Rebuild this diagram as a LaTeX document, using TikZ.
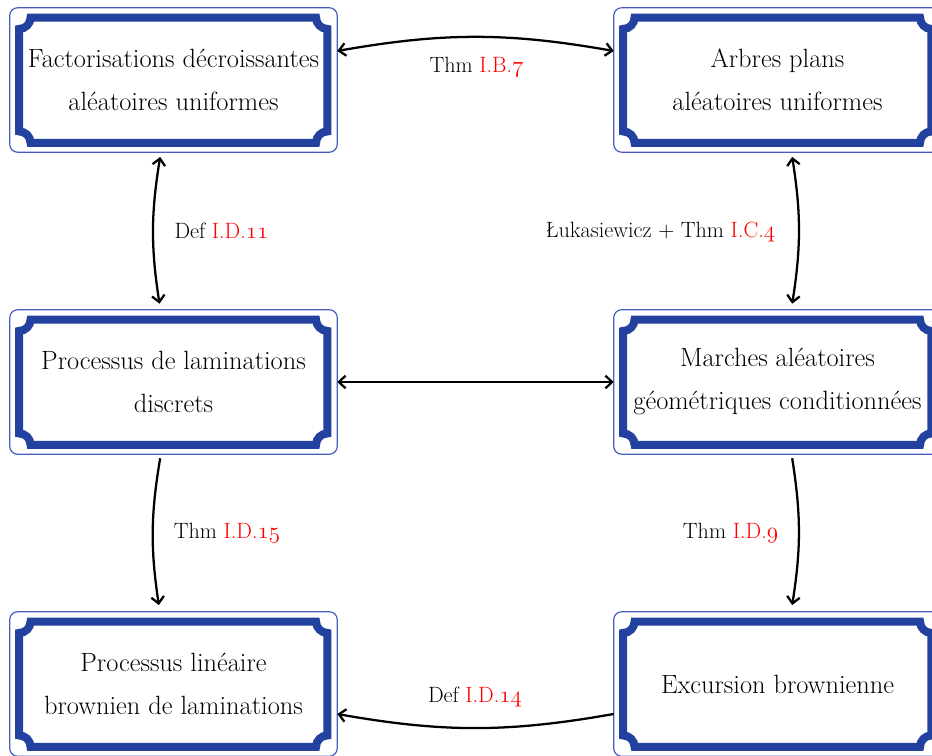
\documentclass[tikz,border=0pt]{standalone}
\usetikzlibrary{arrows.meta,calc}
\definecolor{framecol}{RGB}{35,65,158}
\definecolor{thincol}{RGB}{70,95,190}
\def\plqr{8.5pt}
\newcommand\plaque[1]{%
  \draw[thincol, line width=0.9pt, rounded corners=6pt] (#1.south west) rectangle (#1.north east);
  \path (#1.south west) ++(7.1pt,7.1pt) coordinate (#1-a);
  \path (#1.north east) ++(-7.4pt,-7.4pt) coordinate (#1-b);
  \draw[framecol, line width=6pt] let \p1=(#1-a), \p2=(#1-b) in
    (\x1+\plqr,\y1) -- (\x2-\plqr,\y1) arc[start angle=180,end angle=90,radius=\plqr]
    -- (\x2,\y2-\plqr) arc[start angle=270,end angle=180,radius=\plqr]
    -- (\x1+\plqr,\y2) arc[start angle=0,end angle=-90,radius=\plqr]
    -- (\x1,\y1+\plqr) arc[start angle=90,end angle=0,radius=\plqr] -- cycle;
}
\tikzset{
  x=0.75pt, y=0.75pt,
  box/.style={rectangle, minimum width=245.25pt, minimum height=108pt, inner sep=0pt,
    align=center, font=\fontsize{19.8}{32.25}\selectfont},
  lbl/.style={anchor=base, inner sep=0pt, font=\fontsize{16.6}{20}\selectfont},
  conn/.style={line width=1.7pt, {Straight Barb[length=5pt,width=9.5pt]}-{Straight Barb[length=5pt,width=9.5pt]}},
  conn1/.style={line width=1.7pt, -{Straight Barb[length=5pt,width=9.5pt]}}
}
\begin{document}
\begin{tikzpicture}
\useasboundingbox (0,0) rectangle (932,756);
\clip (0,0) rectangle (932,756);
\node[box] (tl) at (173.5,676) {Factorisations décroissantes\\aléatoires uniformes};
\node[box] (tr) at (777.5,676) {Arbres plans\\aléatoires uniformes};
\node[box] (ml) at (173.5,374) {Processus de laminations\\discrets};
\node[box] (mr) at (777.5,374) {Marches aléatoires\\géométriques conditionnées};
\node[box] (bl) at (173.5,72) {Processus linéaire\\brownien de laminations};
\node[box] (br) at (777.5,72) {Excursion brownienne};
\plaque{tl}\plaque{tr}\plaque{ml}\plaque{mr}\plaque{bl}\plaque{br}

\draw[conn] ([yshift=21.75pt]tl.east) to[bend left=10] ([yshift=21.75pt]tr.west);
\draw[conn] ([xshift=-10pt,yshift=-3.5pt]tl.south) to[bend right=9] ([xshift=-10.5pt,yshift=4.5pt]ml.north);
\draw[conn] ([xshift=11pt,yshift=-3.5pt]tr.south) to[bend left=9] ([xshift=11pt,yshift=4.5pt]mr.north);
\draw[conn] (ml.east) -- (mr.west);
\draw[conn1] ([xshift=-10pt,yshift=-3pt]ml.south) to[bend right=9] ([xshift=-11pt,yshift=5pt]bl.north);
\draw[conn1] ([xshift=11pt,yshift=-3pt]mr.south) to[bend left=9] ([xshift=11pt,yshift=5pt]br.north);
\draw[conn1] ([yshift=-22.5pt]br.west) to[bend left=10] ([yshift=-22.5pt]bl.east);

\node[lbl] (l1) at (476.5,683) {Thm \textcolor{red}{I.B.\legacyoldstylenums{7}}};
\node[lbl] (l2) at (221.5,517) {Def \textcolor{red}{I.D.\legacyoldstylenums{11}}};
\node[lbl] (l3) at (660.5,518) {Łukasiewicz + Thm \textcolor{red}{I.C.\legacyoldstylenums{4}}};
\node[lbl] (l4) at (227,217) {Thm \textcolor{red}{I.D.\legacyoldstylenums{15}}};
\node[lbl] (l5) at (730.5,217) {Thm \textcolor{red}{I.D.\legacyoldstylenums{9}}};
\node[lbl] (l6) at (475,53) {Def \textcolor{red}{I.D.\legacyoldstylenums{14}}};
\end{tikzpicture}
\end{document}
